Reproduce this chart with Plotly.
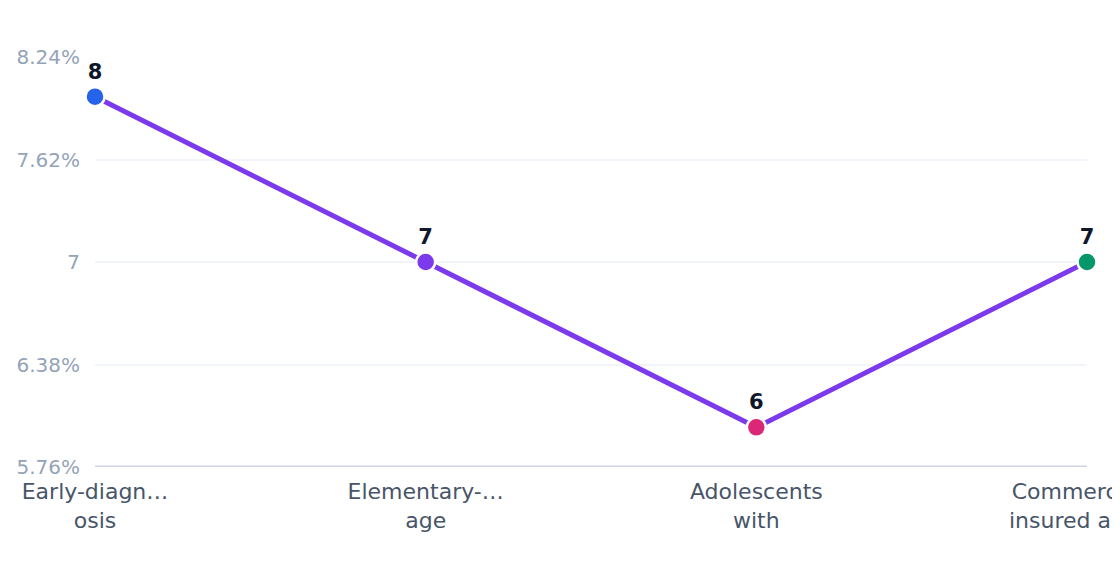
import plotly.graph_objects as go

categories = ["Early-diagn…<br>osis", "Elementary-…<br>age", "Adolescents<br>with", "Commercially<br>insured adults"]
values = [8, 7, 6, 7]
point_colors = ["#2563eb", "#7c3aed", "#db2777", "#059669"]
labels = ["8", "7", "6", "7"]

tick_vals = [5.76, 6.38, 7, 7.62, 8.24]
tick_text = ["5.76%", "6.38%", "7", "7.62%", "8.24%"]

fig = go.Figure()
fig.add_trace(go.Scatter(
  x=list(range(len(categories))),
  y=values,
  mode="lines+markers+text",
  text=labels,
  textposition="top center",
  textfont=dict(family="DejaVu Sans", size=21, color="#0f172a", weight="bold"),
  line=dict(color="#7c3aed", width=5),
  marker=dict(size=19, color=point_colors, line=dict(color="#ffffff", width=2.5)),
  cliponaxis=False,
  hoverinfo="skip",
))

fig.update_layout(
  width=1120,
  height=572,
  margin=dict(l=87, r=41, t=49, b=113),
  plot_bgcolor="#ffffff",
  paper_bgcolor="#ffffff",
  showlegend=False,
  font=dict(family="DejaVu Sans"),
  xaxis=dict(
    range=[0, 3],
    tickvals=list(range(len(categories))),
    ticktext=categories,
    showgrid=False,
    zeroline=False,
    showline=False,
    tickfont=dict(size=22, color="#475569"),
    ticklabelstandoff=9,
    ticklabeloverflow="allow",
    automargin=False,
  ),
  yaxis=dict(
    range=[5.76, 8.24],
    tickvals=tick_vals,
    ticktext=tick_text,
    showgrid=True,
    gridcolor="#f1f5f9",
    gridwidth=2,
    zeroline=False,
    showline=False,
    tickfont=dict(size=20, color="#94a3b8"),
    ticklabelstandoff=14,
    automargin=False,
  ),
  shapes=[dict(type="line", xref="paper", yref="y", x0=0, x1=1, y0=5.76, y1=5.76,
               line=dict(color="#cbd5e1", width=3), layer="above")],
)

fig.write_html("out.html")
